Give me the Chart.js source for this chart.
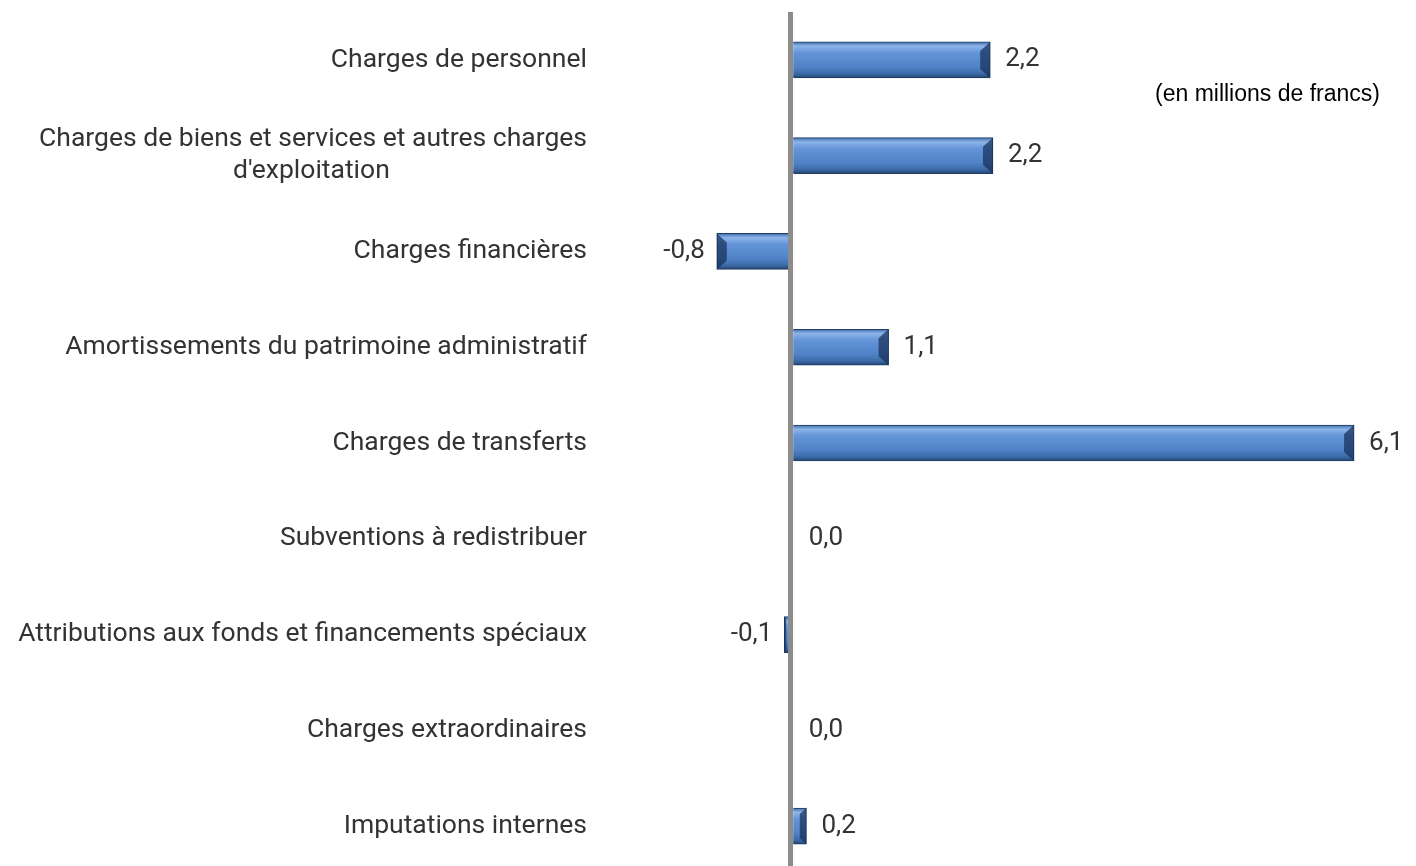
<!DOCTYPE html>
<html>
<head>
<meta charset="utf-8">
<script src="https://cdn.jsdelivr.net/npm/chart.js@4"></script>
<style>
  html, body { margin: 0; padding: 0; background: #fff; overflow: hidden; }
  #wrap { position: relative; width: 1416px; height: 866px; overflow: hidden; }
  #unit { position: absolute; left: 1155px; top: 80px; font: 23px "Liberation Sans", Arial, sans-serif; color: #000; white-space: nowrap; }
</style>
</head>
<body>
<div id="wrap">
  <canvas id="myChart" width="1416" height="874"></canvas>
  <div id="unit">(en millions de francs)</div>
</div>
<script>
// Data (millions de francs)
var categories = [
  'Charges de personnel',
  ['Charges de biens et services et autres charges', "d'exploitation"],
  'Charges financières',
  'Amortissements du patrimoine administratif',
  'Charges de transferts',
  'Subventions à redistribuer',
  'Attributions aux fonds et financements spéciaux',
  'Charges extraordinaires',
  'Imputations internes'
];
var ecarts = [2.16, 2.19, -0.8, 1.06, 6.1, 0, -0.07, 0, 0.17];

var labelFont = '26.5px Roboto';

// centre the second line of a wrapped label under the first one
var ctxMeasure = document.createElement('canvas').getContext('2d');
ctxMeasure.font = labelFont;
function centreLines(lines) {
  if (!Array.isArray(lines)) return lines;
  var w0 = ctxMeasure.measureText(lines[0]).width;
  var sp = ctxMeasure.measureText('\u00a0').width;
  return lines.map(function (l) {
    var diff = (w0 - ctxMeasure.measureText(l).width) / 2;
    return l + '\u00a0'.repeat(Math.round(diff / sp));
  });
}

function fmt(v) {
  return v.toFixed(1).replace('.', ',');
}

// bevel look: vertical gradient per bar
function barFill(c) {
  var chart = c.chart;
  var area = chart.chartArea;
  if (!area) return '#4f81bd';
  var y = chart.scales.y.getPixelForValue(c.dataIndex);
  var h = 36;
  var g = chart.ctx.createLinearGradient(0, y - h / 2, 0, y + h / 2);
  g.addColorStop(0, '#3f6fae');
  g.addColorStop(0.12, '#8cb4e8');
  g.addColorStop(0.3, '#6495d8');
  g.addColorStop(0.7, '#4f82c6');
  g.addColorStop(0.88, '#3d6ba8');
  g.addColorStop(1, '#22446f');
  return g;
}

// dark end cap + value labels
var valueLabels = {
  id: 'valueLabels',
  afterDatasetsDraw: function (chart) {
    var ctx = chart.ctx;
    var meta = chart.getDatasetMeta(0);
    var x0 = chart.scales.x.getPixelForValue(0);
    ctx.save();
    meta.data.forEach(function (bar, i) {
      var v = ecarts[i];
      var half = bar.height / 2;
      var len = Math.abs(bar.x - bar.base);
      if (len > 2) {
        var cap = Math.min(10, len / 2);
        var dir = v >= 0 ? 1 : -1;
        ctx.fillStyle = 'rgba(20,45,85,0.7)';
        ctx.beginPath();
        ctx.moveTo(bar.x, bar.y - half);
        ctx.lineTo(bar.x - dir * cap, bar.y - half + cap * 0.9);
        ctx.lineTo(bar.x - dir * cap, bar.y + half - cap * 0.9);
        ctx.lineTo(bar.x, bar.y + half);
        ctx.closePath();
        ctx.fill();
      }
      ctx.font = '26px Roboto';
      ctx.fillStyle = '#333';
      ctx.textBaseline = 'middle';
      if (v < 0) {
        ctx.textAlign = 'right';
        ctx.fillText(fmt(v), bar.x - 12, bar.y);
      } else {
        ctx.textAlign = 'left';
        var xs = v === 0 ? x0 + 18 : bar.x + 15;
        ctx.fillText(fmt(v), xs, bar.y);
      }
    });
    ctx.restore();
  }
};

var ctx = document.getElementById('myChart').getContext('2d');

var myChart = new Chart(ctx, {
  type: 'bar',
  data: {
    labels: categories.map(centreLines),
    datasets: [{
      data: ecarts,
      backgroundColor: barFill,
      borderColor: '#1f3a63',
      borderWidth: 1,
      borderSkipped: 'start',
      barThickness: 36
    }]
  },
  options: {
    indexAxis: 'y',
    responsive: false,
    animation: false,
    layout: { padding: { top: 12, bottom: 0, left: 0, right: 25 } },
    plugins: {
      legend: { display: false },
      tooltip: { enabled: false }
    },
    scales: {
      x: {
        min: -2,
        max: 6.5,
        z: 1,
        border: { display: false },
        ticks: { display: false, stepSize: 0.5 },
        grid: {
          drawTicks: false,
          color: function (c) { return c.tick && c.tick.value === 0 ? '#8c8c8c' : 'transparent'; },
          lineWidth: function (c) { return c.tick && c.tick.value === 0 ? 5 : 0; }
        },
        afterFit: function (scale) { scale.height = 0; scale.paddingLeft = 0; scale.paddingRight = 0; }
      },
      y: {
        border: { display: false },
        grid: { display: false, drawTicks: false },
        afterFit: function (scale) {
          scale.width = 606;
          scale.paddingTop = 0;
          scale.paddingBottom = 0;
        },
        ticks: {
          padding: 19,
          color: '#333',
          font: { family: 'Roboto', size: 26.5 }
        }
      }
    }
  },
  plugins: [valueLabels]
});
</script>
</body>
</html>
